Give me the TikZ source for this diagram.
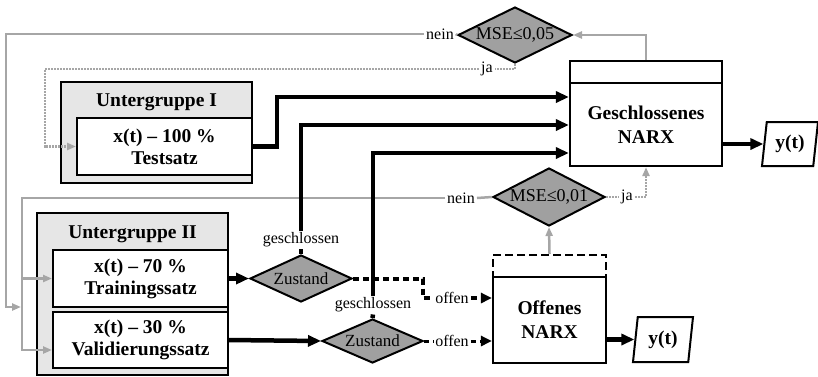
\documentclass[tikz,border=0pt]{standalone}
\usepackage{fontspec}
\setmainfont{Liberation Serif}
\usepackage{xcolor}
\definecolor{cLine}{HTML}{A6A6A6}
\definecolor{cDec}{HTML}{A0A0A0}
\definecolor{cGroup}{HTML}{E6E6E6}
\usepackage{tikz}
\usetikzlibrary{arrows.meta,shapes.geometric}
\tikzset{
  node-group/.style={draw,line width=2pt,fill=cGroup,inner sep=0pt},
  node-title/.style={font=\fontsize{19.5}{22}\selectfont\bfseries},
  node-set/.style={draw,line width=2pt,fill=white,align=center,inner sep=0pt,
    font=\fontsize{19.5}{22}\selectfont\bfseries},
  node-narx/.style={draw,line width=2.2pt,fill=white,align=center,inner sep=0pt,
    font=\fontsize{19.5}{24}\selectfont\bfseries},
  node-head/.style={draw,line width=2.2pt,fill=white,inner sep=0pt,minimum height=22pt},
  node-dec/.style={draw,diamond,line width=2pt,fill=cDec,inner sep=0pt,
    shape aspect=2,font=\fontsize{18}{20}\selectfont},
  node-out/.style={draw,trapezium,trapezium left angle=75,trapezium right angle=105,
    trapezium stretches body,line width=2pt,fill=white,inner sep=0pt,
    font=\fontsize{19.5}{22}\selectfont\bfseries},
  node-lbl/.style={inner sep=2pt,font=\fontsize{16}{18}\selectfont},
  line-main/.style={line width=4.5pt},
  arrow-main/.style={-{Triangle[length=13pt,width=11pt]},line width=4.5pt},
  line-open/.style={line width=4pt,dash pattern=on 6pt off 4pt},
  arrow-open/.style={-{Triangle[length=11pt,width=10pt]},line width=4pt,dash pattern=on 6pt off 4pt},
  line-open2/.style={line width=3pt,dash pattern=on 5pt off 4pt},
  arrow-open2/.style={-{Triangle[length=11pt,width=10pt]},line width=3pt,dash pattern=on 5pt off 4pt},
  line-grey/.style={line width=2.5pt,draw=cLine},
  arrow-grey/.style={-{Triangle[length=9pt,width=7pt]},line width=2.5pt,draw=cLine},
  line-grey-dot/.style={line width=2.5pt,draw=cLine,dash pattern=on 2pt off 1pt},
  arrow-grey-dot/.style={-{Triangle[length=9pt,width=7pt]},line width=2.5pt,draw=cLine,
    dash pattern=on 2pt off 1pt},
}

\begin{document}
\begin{tikzpicture}[x=1pt,y=-1pt]
  \useasboundingbox (0,0) rectangle (818,376);
  % Untergruppen
  \node[node-group,minimum width=191pt,minimum height=101pt] (grp1) at (156.5,132.5) {};
  \node[node-title] (grp1-title) at (156.5,102) {Untergruppe I};
  \node[node-set,minimum width=175pt,minimum height=57pt] (test) at (164.5,146.5)
    {x(t) -- 100 \%\\Testsatz};
  \node[node-group,minimum width=191pt,minimum height=162pt] (grp2) at (132.5,294) {};
  \node[node-title] (grp2-title) at (132.5,234) {Untergruppe II};
  \node[node-set,minimum width=175pt,minimum height=57pt] (train) at (140.5,278.5)
    {x(t) -- 70 \%\\Trainingssatz};
  \node[node-set,minimum width=175pt,minimum height=56pt] (val) at (140.5,340)
    {x(t) -- 30 \%\\Validierungssatz};
  % NARX
  \node[node-head,minimum width=152pt] (gnarx-head) at (646,72) {};
  \node[node-narx,minimum width=152pt,minimum height=83pt] (gnarx) at (646,124.5)
    {Geschlossenes\\NARX};
  \node[node-head,dash pattern=on 8pt off 4pt,minimum width=113pt] (onarx-head) at (549.5,266) {};
  \node[node-narx,minimum width=113pt,minimum height=86pt] (onarx) at (549.5,320)
    {Offenes\\NARX};
  \node[node-out,minimum width=56pt,minimum height=44pt] (yout1) at (790,144) {y(t)};
  \node[node-out,minimum width=60pt,minimum height=45pt] (yout2) at (663,339.5) {y(t)};
  % Entscheidungen
  \node[node-dec,minimum width=114pt,minimum height=56pt] (mse1) at (515,35) {MSE≤0,05};
  \node[node-dec,minimum width=112pt,minimum height=58pt] (mse2) at (549,197) {MSE≤0,01};
  \node[node-dec,minimum width=102pt,minimum height=47pt,font=\fontsize{17}{19}\selectfont]
    (zust1) at (301,278.5) {Zustand};
  \node[node-dec,minimum width=101pt,minimum height=44pt,font=\fontsize{17}{19}\selectfont]
    (zust2) at (372.5,341) {Zustand};
  % Beschriftungen
  \node[node-lbl] (nein1) at (440,34) {nein};
  \node[node-lbl] (ja1) at (487,69) {ja};
  \node[node-lbl] (nein2) at (461,198) {nein};
  \node[node-lbl] (ja2) at (627,197) {ja};
  \node[node-lbl] (gesch1) at (301,240) {geschlossen};
  \node[node-lbl] (gesch2) at (373,305) {geschlossen};
  \node[node-lbl] (offen1) at (452,298) {offen};
  \node[node-lbl] (offen2) at (452,341) {offen};
  \coordinate (grey-join) at (21,307);

  % graue Rueckfuehrung
  \draw[arrow-grey] (gnarx-head.north) |- (mse1.east);
  \draw[line-grey] (mse1.west) -- (nein1.east);
  \draw[arrow-grey] (nein1.west) -| (6,307) -- (grey-join);
  \draw[line-grey-dot] (mse1.south) |- (ja1.east);
  \draw[arrow-grey-dot] (ja1.west) -| (45,146.5) -- (test.west);
  \draw[line-grey] (mse2.west) -- (nein2.east);
  \draw[arrow-grey] (nein2.west) -| (22,350) -- (val.west |- 0,350);
  \draw[arrow-grey] (22,278.5) -- (train.west);
  \draw[arrow-grey] (onarx-head.north) -- (mse2.south);
  \draw[line-grey-dot] (mse2.east) -- (ja2.west);
  \draw[arrow-grey-dot] (ja2.east) -| (gnarx.south);

  % Datenfluss
  \draw[arrow-main] (test.east) -- (277,146.5) |- (gnarx.west |- 0,97);
  \draw[arrow-main] (gesch1.north) |- (gnarx.west |- 0,125);
  \draw[arrow-main] (gesch2.north) |- (gnarx.west |- 0,153);
  \draw[line-main] (zust1.north) -- (gesch1.south);
  \draw[line-main] (zust2.north) -- (gesch2.south);
  \draw[arrow-main] (train.east) -- (zust1.west);
  \draw[arrow-main] (val.east) -- (zust2.west);
  \draw[line-open] (zust1.east) -| (423,298) -- (offen1.west);
  \draw[arrow-open] (offen1.east) -- (onarx.west |- offen1);
  \draw[line-open2] (zust2.east) -- (offen2.west);
  \draw[arrow-open2] (offen2.east) -- (onarx.west |- offen2);
  \draw[arrow-main] (gnarx.east |- yout1.west) -- (yout1.west);
  \draw[arrow-main] (onarx.east |- yout2.west) -- (yout2.west);
\end{tikzpicture}
\end{document}
